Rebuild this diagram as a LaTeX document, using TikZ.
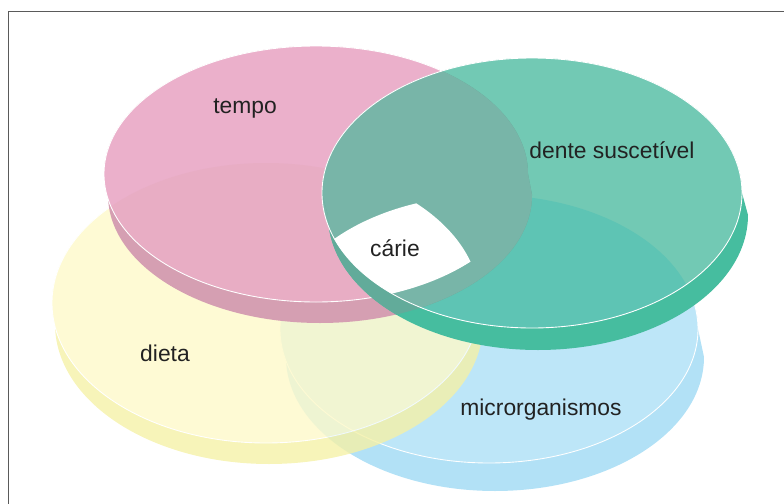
\documentclass[tikz,border=0pt]{standalone}
\usepackage{fontspec}
\setmainfont{Liberation Sans}
\usepackage{tikz}
\usetikzlibrary{positioning}

\definecolor{tempoface}{RGB}{235,176,203}
\definecolor{temposide}{RGB}{213,159,178}
\definecolor{tempodieta}{RGB}{232,173,196}
\definecolor{denteface}{RGB}{114,201,180}
\definecolor{denteside}{RGB}{70,189,159}
\definecolor{dentetempo}{RGB}{120,181,168}
\definecolor{dentetemposide}{RGB}{98,171,154}
\definecolor{dentemicro}{RGB}{94,196,180}
\definecolor{dietaface}{RGB}{254,249,201}
\definecolor{dietaside}{RGB}{245,241,167}
\definecolor{microface}{RGB}{189,230,248}
\definecolor{microside}{RGB}{178,225,246}
\definecolor{framegray}{RGB}{90,90,90}
\definecolor{labeltext}{RGB}{34,34,34}

% top faces and whole disks (face + side)
\def\tempotop{(31.6,-17.4) ellipse [x radius=21.2, y radius=12.8]}
\def\tempodisk{(10.4,-17.4) -- (10.8,-19.5) arc [start angle=180, end angle=360, x radius=21.2, y radius=12.8] -- (52.8,-17.4) arc [start angle=0, end angle=180, x radius=21.2, y radius=12.8] -- cycle}
\def\dentetop{(53.2,-19.3) ellipse [x radius=21.0, y radius=13.5]}
\def\dentedisk{(32.2,-19.3) -- (32.8,-21.5) arc [start angle=180, end angle=360, x radius=21.0, y radius=13.5] -- (74.2,-19.3) arc [start angle=0, end angle=180, x radius=21.0, y radius=13.5] -- cycle}
\def\dietatop{(26.6,-30.3) ellipse [x radius=21.4, y radius=14.0]}
\def\dietadisk{(5.2,-30.3) -- (5.5,-32.4) arc [start angle=180, end angle=360, x radius=21.4, y radius=14.0] -- (48.0,-30.3) arc [start angle=0, end angle=180, x radius=21.4, y radius=14.0] -- cycle}
\def\microtop{(48.9,-32.9) ellipse [x radius=20.9, y radius=13.4]}
\def\microdisk{(28.0,-32.9) -- (28.6,-35.7) arc [start angle=180, end angle=360, x radius=20.9, y radius=13.4] -- (69.8,-32.9) arc [start angle=0, end angle=180, x radius=20.9, y radius=13.4] -- cycle}

\begin{document}
\begin{tikzpicture}[scale=0.2,
  rim/.style={draw=white, line width=0.5pt},
  label/.style={inner sep=0pt, text=labeltext, font=\fontsize{13}{15}\selectfont}]
\useasboundingbox (0,0) rectangle (78.4,-50.4);
\draw [framegray, line width=1.1pt] (0.85,-50.4) |- (78.4,-1.15);
% microrganismos
\fill [microside] \microdisk;
\fill [microface] \microtop;
\draw [rim] \microtop;
% dieta
\begin{scope}[transparency group, opacity=0.8]
\fill [dietaside] \dietadisk;
\fill [dietaface] \dietatop;
\draw [rim] \dietatop;
\end{scope}
% tempo
\fill [temposide] \tempodisk;
\fill [tempoface] \tempotop;
\begin{scope}
\clip \dietatop;
\fill [tempodieta] \tempotop;
\end{scope}
\draw [rim] \tempotop;
% dente suscetivel
\fill [denteside] \dentedisk;
\fill [denteface] \dentetop;
\begin{scope}
\clip \dentetop;
\fill [dentemicro] \microtop;
\fill [dentetempo] \tempodisk;
\end{scope}
\begin{scope}
\clip \tempodisk;
\clip \dentedisk;
\fill [dentetemposide] (0,0) rectangle (78.4,-50.4);
\fill [dentetempo] \dentetop;
\end{scope}
\draw [rim] \dentetop;
% carie
\begin{scope}
\clip \tempotop;
\clip \dentetop;
\clip \dietatop;
\clip \microtop;
\fill [white] (0,0) rectangle (78.4,-50.4);
\end{scope}
\node [label] (tempo) at (24.5,-10.8) {tempo};
\node [label] (dente) at (61.2,-15.0) {dente suscetível};
\node [label] (carie) at (39.5,-24.8) {cárie};
\node [label] (dieta) at (16.5,-35.3) {dieta};
\node [label] (micro) at (54.1,-41.0) {microrganismos};
\end{tikzpicture}
\end{document}
